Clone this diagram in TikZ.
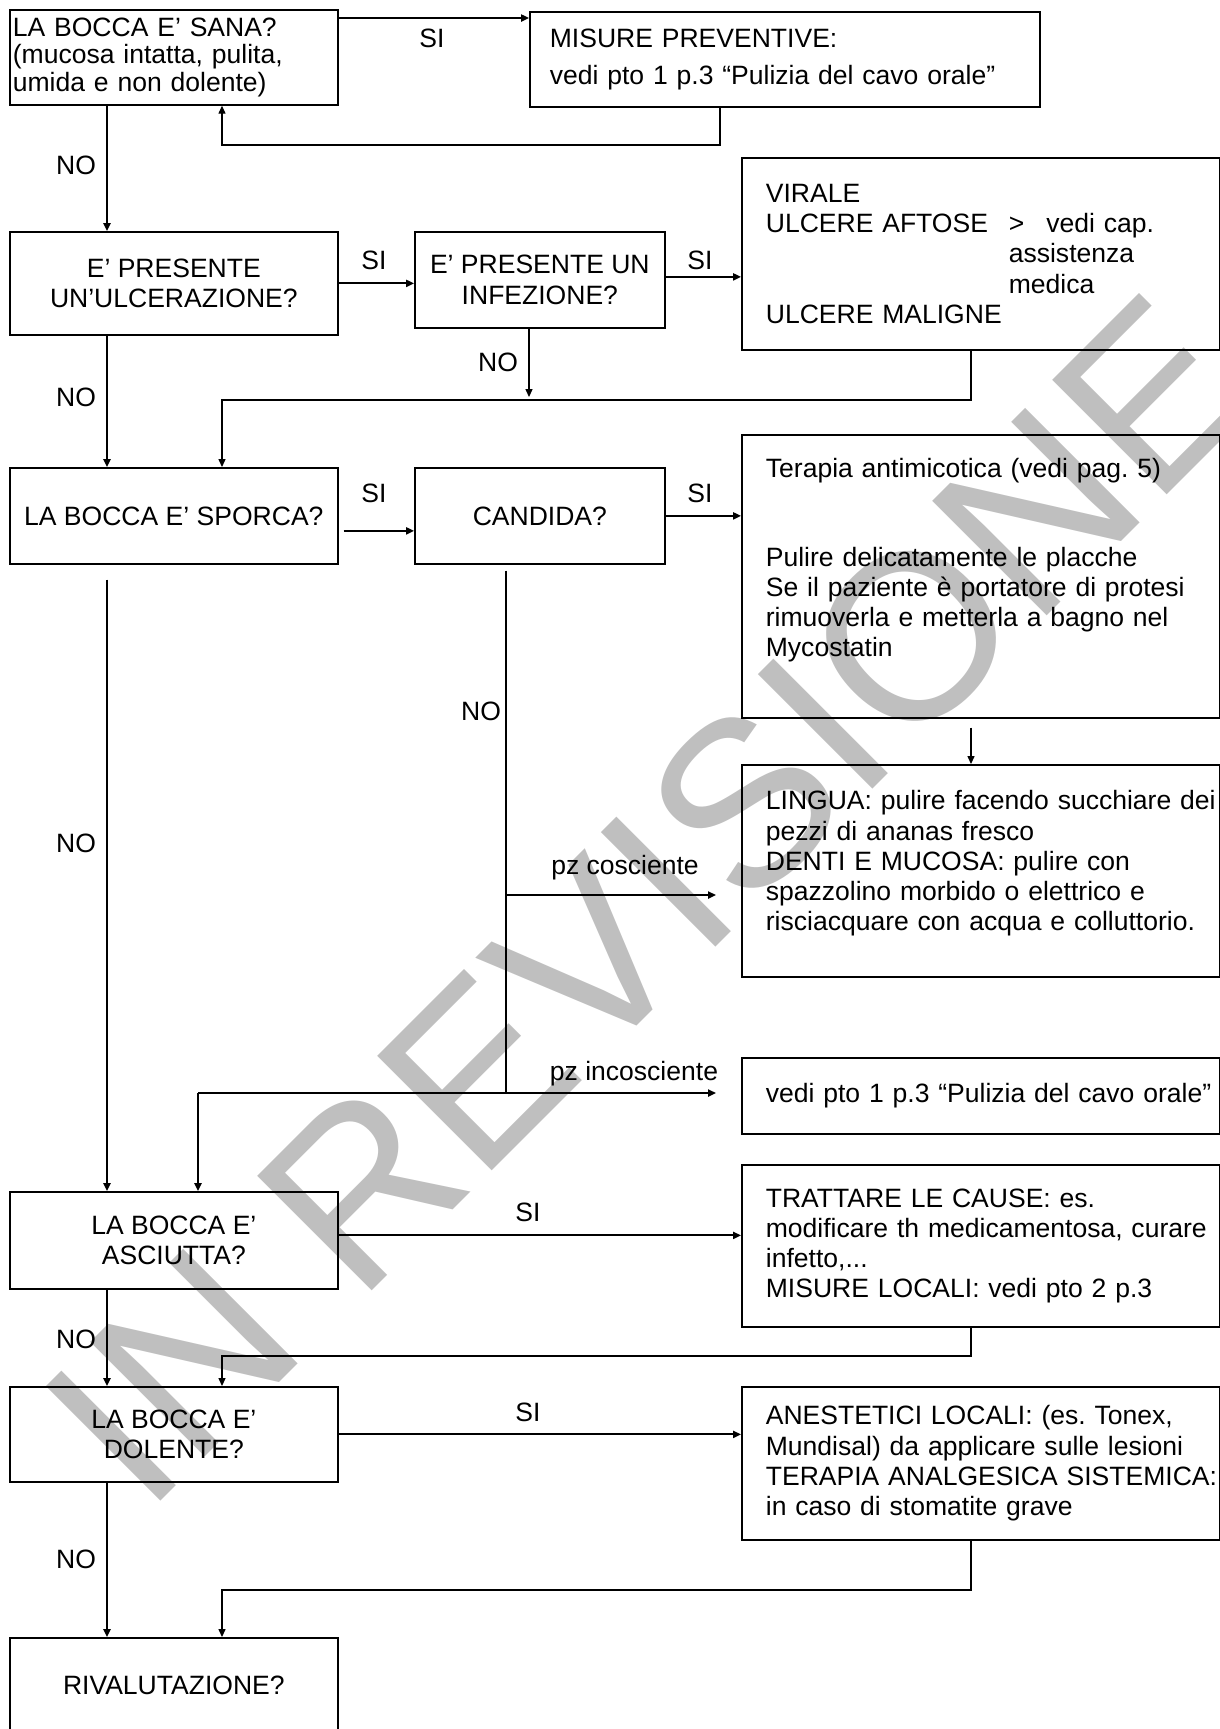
\documentclass[tikz,border=0pt]{standalone}
\usepackage{fontspec}
\setmainfont{Liberation Sans}
\usetikzlibrary{arrows.meta}
\frenchspacing

\begin{document}
\begin{tikzpicture}[x=0.02cm, y=-0.02cm,
  font=\fontsize{15.1}{17.2}\selectfont,
  box/.style={draw, line width=1pt, anchor=north west, inner sep=0pt},
  qbox/.style={box, align=center},
  tbox/.style={box, align=left, text width=9.56cm, execute at begin node={\leftskip=0.48cm}},
  flow/.style={line width=1.1pt, -{Triangle[length=4.5pt,width=4pt]}},
  link/.style={line width=0.6pt},
  lbl/.style={inner sep=0pt},
  wm/.style={text=black!25, font=\fontsize{134}{134}\selectfont, rotate=45, inner sep=0pt}]
\useasboundingbox (0,0) rectangle (1220,1729);
\node[wm] (rev) at (648,900) {IN REVISIONE};

\coordinate (colno) at (107,0);
\coordinate (colret) at (222,0);
\coordinate (colin) at (198,0);
\coordinate (coldx) at (971,0);

\node[box, align=left, text width=6.56cm, minimum height=1.9cm, font=\fontsize{15.1}{15.6}\selectfont,
  execute at begin node={\leftskip=0.06cm}] (sana) at (9,9)
  {LA BOCCA E’ SANA?\\(mucosa intatta, pulita,\\umida e non dolente)};
\node[tbox, text width=10.2cm, minimum height=1.9cm, execute at begin node={\leftskip=0.4cm}] (misure) at (529,11)
  {MISURE PREVENTIVE:\\[0.14cm]vedi pto 1 p.3 “Pulizia del cavo orale”};
\node[qbox, minimum width=6.56cm, minimum height=2.06cm] (ulcera) at (9,231) {E’ PRESENTE\\UN’ULCERAZIONE?};
\node[qbox, minimum width=5cm, minimum height=1.92cm] (infez) at (414,231) {E’ PRESENTE UN\\INFEZIONE?};
\node[tbox, minimum height=3.84cm] (virale) at (741,157)
  {VIRALE\\\makebox[4.86cm][l]{ULCERE AFTOSE}>\hspace{0.44cm}vedi cap.\\
   \hspace*{4.86cm}assistenza\\\hspace*{4.86cm}medica\\ULCERE MALIGNE};
\node[qbox, minimum width=6.56cm, minimum height=1.92cm] (sporca) at (9,467) {LA BOCCA E’ SPORCA?};
\node[qbox, minimum width=5cm, minimum height=1.92cm] (candida) at (414,467) {CANDIDA?};
\node[tbox, minimum height=5.66cm] (terapia) at (741,434)
  {Terapia antimicotica (vedi pag. 5)\\[1.16cm]Pulire delicatamente le placche\\
   Se il paziente è portatore di protesi\\rimuoverla e metterla a bagno nel\\Mycostatin\\[0.14cm]\mbox{}};
\node[tbox, minimum height=4.24cm] (lingua) at (741,764)
  {LINGUA: pulire facendo succhiare dei\\pezzi di ananas fresco\\DENTI E MUCOSA: pulire con\\
   spazzolino morbido o elettrico e\\risciacquare con acqua e colluttorio.\\[-0.2cm]\mbox{}};
\node[tbox, minimum height=1.52cm] (vedi) at (741,1057) {vedi pto 1 p.3 “Pulizia del cavo orale”};
\node[qbox, minimum width=6.56cm, minimum height=1.94cm] (asciutta) at (9,1191) {LA BOCCA E’\\ASCIUTTA?};
\node[tbox, minimum height=3.24cm] (trattare) at (741,1164)
  {TRATTARE LE CAUSE: es.\\modificare th medicamentosa, curare\\infetto,...\\MISURE LOCALI: vedi pto 2 p.3};
\node[qbox, minimum width=6.56cm, minimum height=1.9cm] (dolente) at (9,1386) {LA BOCCA E’\\DOLENTE?};
\node[tbox, minimum height=3.06cm] (anest) at (741,1386)
  {ANESTETICI LOCALI: (es. Tonex,\\Mundisal) da applicare sulle lesioni\\TERAPIA ANALGESICA SISTEMICA:\\in caso di stomatite grave};
\node[qbox, minimum width=6.56cm, minimum height=1.88cm] (rival) at (9,1637) {RIVALUTAZIONE?};

\coordinate (infno) at (529,397);
\coordinate (cosc) at (506,895);
\coordinate (incosc) at (506,1093);

\draw[flow] ([yshift=-0.18cm]sana.north east) -- ([yshift=-0.18cm]sana.north east -| misure.west);
\draw[link, -{Triangle[length=4.5pt,width=4pt]}] (misure.south -| 720,0) |- (222,145) -- (sana.south -| colret);
\draw[flow] (sana.south -| colno) -- (ulcera.north -| colno);
\draw[flow] (ulcera.east) -- (ulcera.east -| infez.west);
\draw[flow] ([yshift=0.06cm]infez.east) -- ([yshift=0.06cm]infez.east -| virale.west);
\draw[link, -{Triangle[length=4.5pt,width=4pt]}] (infez.south -| infno) -- (infno);
\draw[link, -{Triangle[length=4.5pt,width=4pt]}] (virale.south -| coldx) |- (222,400) -- (sporca.north -| colret);
\draw[flow] (ulcera.south -| colno) -- (sporca.north -| colno);
\draw[flow] ([xshift=0.1cm,yshift=-0.3cm]sporca.east) -- ([yshift=-0.3cm]sporca.east -| candida.west);
\draw[flow] (candida.east) -- (candida.east -| terapia.west);
\draw[link, -{Triangle[length=4.5pt,width=4pt]}] ([yshift=-0.18cm]terapia.south -| coldx) -- (lingua.north -| coldx);
\draw[link] ([yshift=-0.12cm]candida.south -| cosc) -- (incosc);
\draw[flow] (cosc) -- ([xshift=-0.5cm]cosc -| lingua.west);
\draw[flow] (incosc -| colin) -- ([xshift=-0.5cm]incosc -| vedi.west);
\draw[flow] (incosc -| colin) -- (asciutta.north -| colin);
\draw[flow] ([yshift=-0.3cm]sporca.south -| colno) -- (asciutta.north -| colno);
\draw[flow] ([yshift=0.1cm]asciutta.east) -- ([yshift=0.1cm]asciutta.east -| trattare.west);
\draw[link, -{Triangle[length=4.5pt,width=4pt]}] (trattare.south -| coldx) |- (222,1356) -- (dolente.north -| colret);
\draw[flow] (asciutta.south -| colno) -- (dolente.north -| colno);
\draw[flow] (dolente.east) -- (dolente.east -| anest.west);
\draw[link, -{Triangle[length=4.5pt,width=4pt]}] (anest.south -| coldx) |- (222,1590) -- (rival.north -| colret);
\draw[flow] (dolente.south -| colno) -- (rival.north -| colno);

\node[lbl] (si1) at (432,38) {SI};
\node[lbl] (si2) at (374,260) {SI};
\node[lbl] (si3) at (700,260) {SI};
\node[lbl] (si4) at (374,493) {SI};
\node[lbl] (si5) at (700,493) {SI};
\node[lbl] (si6) at (528,1212) {SI};
\node[lbl] (si7) at (528,1412) {SI};
\node[lbl] (no1) at (76,165) {NO};
\node[lbl] (no2) at (498,362) {NO};
\node[lbl] (no3) at (76,397) {NO};
\node[lbl] (no4) at (481,711) {NO};
\node[lbl] (no5) at (76,843) {NO};
\node[lbl] (no6) at (76,1339) {NO};
\node[lbl] (no7) at (76,1559) {NO};
\node[lbl] (pzc) at (625,868) {pz cosciente};
\node[lbl] (pzi) at (634,1074) {pz incosciente};
\end{tikzpicture}
\end{document}
